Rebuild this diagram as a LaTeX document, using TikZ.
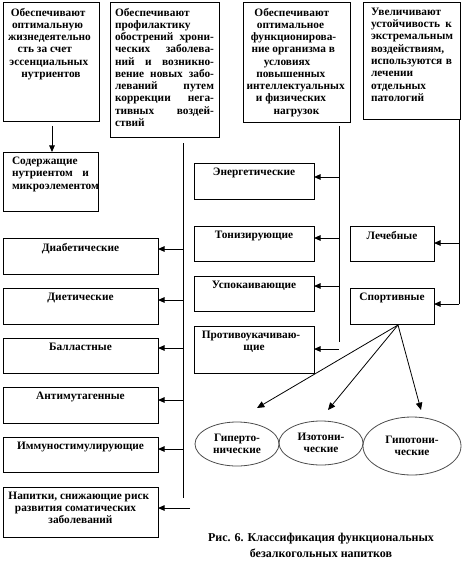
\documentclass[tikz,border=0pt]{standalone}
\usepackage{fontspec}
\setmainfont{Liberation Serif}
\usetikzlibrary{arrows.meta,shapes.geometric}
\newdimen\px \px=0.75pt
% width, height, top pad, side pad, content
\newcommand\mkc[5]{\parbox[c][#2\px][t]{#1\px}{\vspace*{#3\px}\leftskip=#4\px plus 1fil\rightskip=#4\px plus 1fil\parfillskip=0pt\relax #5\par}}
\newcommand\mkl[5]{\parbox[c][#2\px][t]{#1\px}{\vspace*{#3\px}\leftskip=#4\px\rightskip=#4\px plus 1fil\relax #5\par}}
\tikzset{
  bx/.style={draw, line width=0.75pt, inner sep=0pt, outer sep=0pt, anchor=north west, font=\fontsize{8.5}{9.2}\selectfont\bfseries},
  el/.style={draw=black!70, line width=0.6pt, ellipse, inner sep=0pt, font=\fontsize{8.5}{9.2}\selectfont\bfseries, align=center},
  ln/.style={line width=0.75pt},
  ar/.style={line width=0.75pt, -{Triangle[length=5pt,width=4.2pt]}},
  sar/.style={line width=0.6pt, -{Triangle[length=5.5pt,width=4.8pt]}},
}
\begin{document}
\begin{tikzpicture}[x=0.75pt,y=-0.75pt]
\useasboundingbox (0,0) rectangle (462,563);
% top row
\node[bx] (b1) at (3,3) {\mkc{96}{119}{5}{2}{Обеспечивают\\оптимальную\\жизнедеятельно\\сть за счет\\эссенциальных\\нутриентов}};
\node[bx] (b2) at (110,3) {\mkl{109}{135}{5}{5}{Обеспечивают\\профилактику\\обострений\hfill хрони-\\ческих\hfill заболева-\\ний\hfill и\hfill возникно-\\вение\hfill новых\hfill забо-\\леваний\hfill путем\\коррекции\hfill нега-\\тивных\hfill воздей-\\ствий}};
\node[bx] (b3) at (243,3) {\mkc{107}{120}{5}{2}{Обеспечивают\\оптимальное\\функционирова-\\ние организма в\\условиях\\повышенных\\интеллектуальных\\и физических\\нагрузок}};
\node[bx] (b4) at (363,3) {\mkl{97}{117}{5}{8}{Увеличивают\\устойчивость\hfill к\\экстремальным\\воздействиям,\\используются\hfill в\\лечении\\отдельных\\патологий}};
\node[bx] (b5) at (3,152) {\mkl{95}{59}{5}{9}{Содержащие\\нутриентом\hfill и\\микроэлементом}};
% left column
\node[bx] (l1) at (3,238) {\mkc{155}{36}{5}{2}{Диабетические}};
\node[bx] (l2) at (3,288) {\mkc{155}{36}{5}{2}{Диетические}};
\node[bx] (l3) at (3,338) {\mkc{155}{35}{5}{2}{Балластные}};
\node[bx] (l4) at (3,387) {\mkc{155}{36}{5}{2}{Антимутагенные}};
\node[bx] (l5) at (3,437) {\mkc{155}{35}{5}{2}{Иммуностимулирующие}};
\node[bx] (l6) at (3,487) {\mkc{155}{50}{5}{2}{Напитки, снижающие риск\\развития соматических\\заболеваний}};
% middle column
\node[bx] (m1) at (194,163) {\mkc{120}{36}{5}{2}{Энергетические}};
\node[bx] (m2) at (194,226) {\mkc{120}{35}{5}{2}{Тонизирующие}};
\node[bx] (m3) at (194,276) {\mkc{120}{35}{5}{2}{Успокаивающие}};
\node[bx] (m4) at (194,326) {\mkc{120}{47}{5}{2}{Противоукачиваю-\\щие}};
% right column
\node[bx] (r1) at (350,226) {\mkc{84}{35}{5}{2}{Лечебные}};
\node[bx] (r2) at (350,288) {\mkc{84}{36}{5}{2}{Спортивные}};
% ellipses
\node[el, minimum width=63pt, minimum height=33pt] (e1) at (237,444) {Гиперто-\\нические};
\node[el, minimum width=63pt, minimum height=33pt] (e2) at (321,443) {Изотони-\\ческие};
\node[el, minimum width=73.5pt, minimum height=43.5pt] (e3) at (412,446) {Гипотони-\\ческие};
% caption
\node[font=\fontsize{9}{12}\selectfont\bfseries, align=center] (cap) at (321,545) {Рис. 6. Классификация функциональных\\безалкогольных напитков};
% connectors
\coordinate (t1a) at (52,126);
\draw[ar] (t1a) -- (b5.north west -| t1a);
% trunk left
\coordinate (tla) at (183,143);
\coordinate (tlb) at (183,498);
\draw[ln] (tla) -- (tlb);
\foreach \n/\yy in {l1/249,l2/300,l3/348,l4/400,l5/449} {
  \draw[ar] (183,\yy) -- (\n.east |- {(0,\yy)});
}
\coordinate (tlc) at (190,508);
\draw[ar] (tlc) -- (l6.east |- tlc);
% trunk middle
\coordinate (tma) at (339,126);
\coordinate (tmb) at (339,342);
\draw[ln] (tma) -- (tmb);
\foreach \n/\yy in {m1/177,m2/238,m3/286} {
  \draw[ar] (339,\yy) -- (\n.east |- {(0,\yy)});
}
\coordinate (tmc) at (339,349);
\draw[ar] (tmc) -- (m4.east |- tmc);
% trunk right
\coordinate (tra) at (459,120);
\coordinate (trb) at (459,304);
\draw[ln] (tra) -- (trb);
\draw[ar] (459,243) -- (r1.east |- {(0,243)});
\draw[ar] (trb) -- (r2.east |- trb);
% sport arrows
\coordinate (sp) at (398,325);
\coordinate (s1) at (257,408);
\coordinate (s2) at (328,410);
\coordinate (s3) at (421,410);
\draw[sar] (sp) -- (s1);
\draw[sar] (sp) -- (s2);
\draw[sar] (sp) -- (s3);
\end{tikzpicture}
\end{document}
